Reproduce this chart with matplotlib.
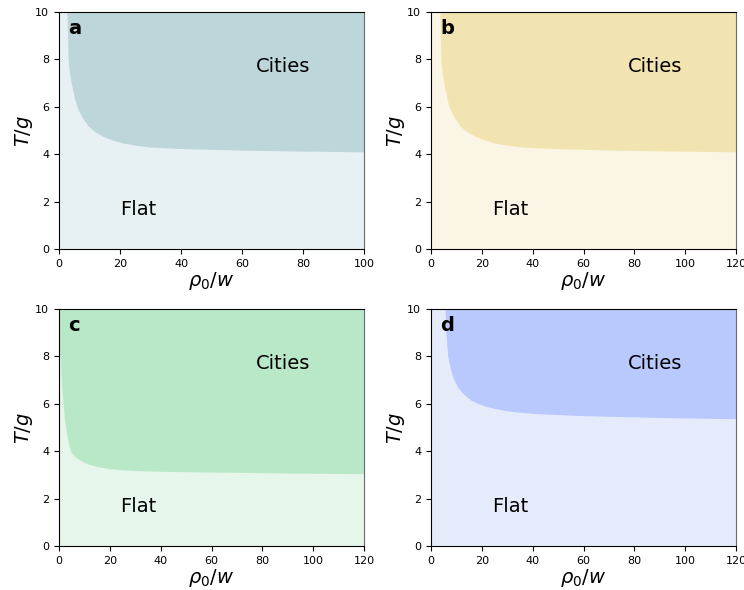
import numpy as np
import matplotlib
matplotlib.use("Agg")
import matplotlib.pyplot as plt

# boundary between flat and city phases (rho0/w, T/g)
xa = [2.6, 2.8, 3.0, 3.2, 3.5, 4.0, 4.5, 5.1, 5.9, 6.6, 7.4, 8.3, 9.5, 10.8, 12.3, 14.5, 17.5, 21, 25, 30, 38, 45, 60, 80, 100]
ya = [10, 9.0, 8.0, 7.7, 7.35, 7.0, 6.7, 6.35, 6.0, 5.8, 5.6, 5.42, 5.2, 5.05, 4.9, 4.75, 4.6, 4.47, 4.38, 4.3, 4.25, 4.22, 4.17, 4.13, 4.1]

xb = [3.5, 3.7, 3.9, 4.1, 4.5, 5.0, 5.6, 6.3, 7.1, 7.9, 8.9, 10.0, 11.4, 13.0, 14.8, 17.4, 21, 25, 30, 36, 45, 54, 72, 96, 120]
yb = [10, 9.0, 8.0, 7.7, 7.35, 7.0, 6.7, 6.35, 6.0, 5.8, 5.6, 5.42, 5.2, 5.05, 4.9, 4.75, 4.6, 4.47, 4.38, 4.3, 4.25, 4.22, 4.17, 4.13, 4.1]

xc = [0, 0.5, 0.9, 1.3, 1.6, 2.1, 2.6, 3.0, 3.4, 3.9, 4.5, 5.2, 5.8, 6.6, 7.5, 8.7, 10, 11.6, 13.4, 16, 20, 24, 29, 40, 60, 90, 120]
yc = [8.2, 8.0, 7.0, 6.4, 6.0, 5.4, 5.0, 4.72, 4.48, 4.22, 4.0, 3.9, 3.82, 3.75, 3.68, 3.6, 3.52, 3.45, 3.4, 3.33, 3.26, 3.22, 3.19, 3.15, 3.12, 3.08, 3.05]

xd = [5.5, 5.9, 6.2, 6.6, 7.1, 7.6, 8.2, 8.8, 9.6, 10.5, 11.8, 13.4, 15.8, 18.7, 23, 29, 35, 42, 60, 90, 120]
yd = [10, 9.0, 8.5, 8.0, 7.75, 7.5, 7.28, 7.06, 6.88, 6.7, 6.52, 6.36, 6.15, 6.0, 5.85, 5.72, 5.64, 5.58, 5.5, 5.42, 5.37]

xmax = [100, 120, 120, 120]
letters = ['a', 'b', 'c', 'd']
city_colors = ['#bdd6da', '#f2e4b1', '#b9e8c8', '#b9c8fd']
flat_colors = ['#e7f0f2', '#fbf5e5', '#e6f6eb', '#e6ebfc']
bounds = [(xa, ya), (xb, yb), (xc, yc), (xd, yd)]

fig = plt.figure(figsize=(7.44, 5.9), dpi=100)
rects = [[0.0793, 0.578, 0.41, 0.4017],
         [0.5793, 0.578, 0.41, 0.4017],
         [0.0793, 0.0746, 0.41, 0.4017],
         [0.5793, 0.0746, 0.41, 0.4017]]

for i in range(4):
    ax = fig.add_axes(rects[i])
    ax.set_facecolor(flat_colors[i])
    bx, by = bounds[i]
    ax.fill_between(bx, by, 10, color=city_colors[i], lw=0)
    ax.set_xlim(0, xmax[i])
    ax.set_ylim(0, 10)
    ax.set_xlabel(r'$\rho_0/w$', fontsize=14, labelpad=1)
    ax.set_ylabel(r'$T/g$', fontsize=14, labelpad=0)
    ax.tick_params(labelsize=8)
    ax.spines['right'].set_color('#6a6a6a')
    ax.text(0.735, 0.77, 'Cities', transform=ax.transAxes, fontsize=14,
            ha='center', va='center')
    ax.text(0.26, 0.165, 'Flat', transform=ax.transAxes, fontsize=14,
            ha='center', va='center')
    ax.text(0.03, 0.93, letters[i], transform=ax.transAxes, fontsize=14,
            fontweight='bold', ha='left', va='center')

fig.savefig('out.png', dpi=100)
